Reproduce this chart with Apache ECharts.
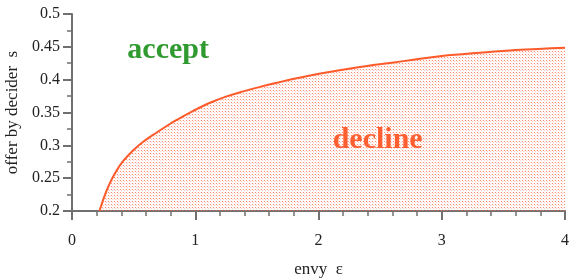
<!DOCTYPE html>
<html><head><meta charset="utf-8">
<script src="https://cdn.jsdelivr.net/npm/echarts@6/dist/echarts.min.js"></script>
<style>html,body{margin:0;padding:0;background:#fff}#c{width:569px;height:280px}</style>
</head><body><div id="c"></div>
<script>
var envy = [0.223, 0.268, 0.308, 0.363, 0.416, 0.497, 0.578, 0.687, 0.781, 0.849, 0.984, 1.12, 1.255, 1.39, 1.525, 1.661, 1.823, 2.039, 2.31, 2.58, 2.77, 3.0, 3.31, 3.6, 4.0];
var offer = [0.2, 0.2248, 0.2428, 0.2621, 0.2764, 0.2926, 0.3055, 0.3195, 0.331, 0.3386, 0.3525, 0.3648, 0.3745, 0.3822, 0.389, 0.3952, 0.402, 0.41, 0.4185, 0.4255, 0.4302, 0.436, 0.441, 0.445, 0.4487];
var yTicks = [0.2, 0.25, 0.3, 0.35, 0.4, 0.45, 0.5];
var xTicks = [0, 1, 2, 3, 4];
var regionLabels = [
  {name: 'accept', x: 0.78, y: 0.445, color: '#2f9a2f'},
  {name: 'decline', x: 2.48, y: 0.308, color: '#ff5f30'}
];

var pat = document.createElement('canvas');
pat.width = 3; pat.height = 3;
var pc = pat.getContext('2d');
pc.fillStyle = 'rgba(255,95,55,0.72)';
pc.fillRect(0, 0, 1, 1);
pc.fillStyle = 'rgba(255,130,100,0.38)';
pc.fillRect(1, 1, 1, 1);
pc.fillStyle = 'rgba(255,170,150,0.22)';
pc.fillRect(2, 0, 1, 1);

var chart = echarts.init(document.getElementById('c'), null, {renderer: 'canvas'});
var font = 'Liberation Serif';
chart.setOption({
  animation: false,
  grid: {left: 72, right: 4, top: 14, bottom: 69, containLabel: false, outerBoundsMode: 'none'},
  xAxis: {
    type: 'value', min: xTicks[0], max: xTicks[xTicks.length - 1], interval: 1,
    name: 'envy  ε', nameLocation: 'middle', nameGap: 50,
    nameTextStyle: {fontFamily: font, fontSize: 17, color: '#222'},
    axisLine: {show: true, lineStyle: {color: '#707070', width: 2}},
    axisTick: {show: true, length: 9, lineStyle: {color: '#707070', width: 2}},
    minorTick: {show: true, splitNumber: 5, length: 5, lineStyle: {color: '#707070', width: 1.5}},
    splitLine: {show: false},
    axisLabel: {fontFamily: font, fontSize: 16, color: '#222', margin: 22}
  },
  yAxis: {
    type: 'value', min: yTicks[0], max: yTicks[yTicks.length - 1], interval: 0.05,
    name: 'offer by decider  s', nameLocation: 'middle', nameGap: 50,
    nameTextStyle: {fontFamily: font, fontSize: 17, color: '#222'},
    axisLine: {show: true, lineStyle: {color: '#707070', width: 2}},
    axisTick: {show: true, length: 9, lineStyle: {color: '#707070', width: 2}},
    minorTick: {show: true, splitNumber: 2, length: 5, lineStyle: {color: '#707070', width: 1.5}},
    splitLine: {show: false},
    axisLabel: {fontFamily: font, fontSize: 16, color: '#222', margin: 12,
      formatter: function (v) { return String(+v.toFixed(2)); }}
  },
  series: [
    {
      type: 'line', smooth: 0.4, symbol: 'none',
      data: envy.map(function (e, i) { return [e, offer[i]]; }),
      lineStyle: {color: '#ff5a2a', width: 2},
      areaStyle: {origin: 'start', color: {image: pat, repeat: 'repeat'}, opacity: 1},
      z: 2
    },
    {
      type: 'scatter', symbolSize: 0, silent: true, z: 5,
      itemStyle: {opacity: 1},
      data: regionLabels.map(function (r) {
        return {value: [r.x, r.y], label: {show: true, position: 'inside', formatter: r.name,
          fontFamily: font, fontWeight: 'bold', fontSize: 30, color: r.color, opacity: 1}};
      })
    }
  ]
});
</script></body></html>
